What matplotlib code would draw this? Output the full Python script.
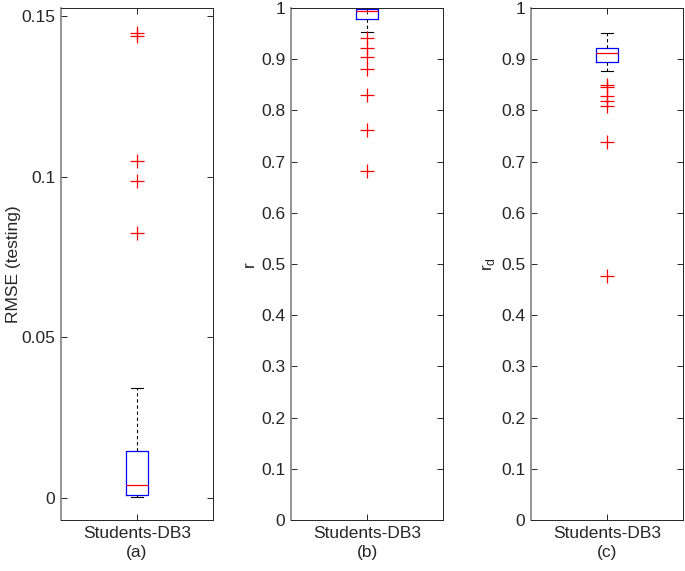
import matplotlib
matplotlib.use('Agg')
import matplotlib.pyplot as plt

plt.rcParams['font.family'] = ['Liberation Sans', 'DejaVu Sans']

# Box statistics
category = 'Students-DB3'
panel_tags = ['(a)', '(b)', '(c)']
y_labels = ['RMSE (testing)', 'r', r'r$_\mathregular{d}$']

rmse_stats = dict(med=0.0041, q1=0.0009, q3=0.0146, whislo=0.0004, whishi=0.0343)
rmse_fliers = [0.1447, 0.1438, 0.1047, 0.0985, 0.0825]

r_stats = dict(med=0.995, q1=0.979, q3=0.9975, whislo=0.953, whishi=1.0)
r_fliers = [0.941, 0.921, 0.904, 0.880, 0.830, 0.762, 0.682]

rd_stats = dict(med=0.912, q1=0.894, q3=0.921, whislo=0.876, whishi=0.951)
rd_fliers = [0.850, 0.845, 0.828, 0.818, 0.808, 0.738, 0.476]

rmse_ticks = [0, 0.05, 0.1, 0.15]
rmse_ticklabels = ['0', '0.05', '0.1', '0.15']
unit_ticks = [i / 10 for i in range(11)]
unit_ticklabels = ['0'] + ['0.%d' % i for i in range(1, 10)] + ['1']

fig = plt.figure(figsize=(6.85, 5.71), dpi=100)
lefts = [61 / 685, 291 / 685, 531 / 685]
w = 152 / 685
b = 1 - 520 / 571
h = 512 / 571

panels = [
    (rmse_stats, rmse_fliers, (-0.0068, 0.1524), rmse_ticks, rmse_ticklabels),
    (r_stats, r_fliers, (0, 1), unit_ticks, unit_ticklabels),
    (rd_stats, rd_fliers, (0, 1), unit_ticks, unit_ticklabels),
]
label_pads = [0.5, 3, 3]

for i, (st, fl, ylim, ticks, tlabels) in enumerate(panels):
    ax = fig.add_axes([lefts[i], b, w, h])
    stats = dict(st)
    stats['fliers'] = fl
    stats['label'] = category
    ax.bxp([stats], positions=[1], widths=0.15, showfliers=True,
           boxprops=dict(color='blue', linewidth=0.9),
           medianprops=dict(color='red', linewidth=0.9),
           whiskerprops=dict(color='black', linestyle=(0, (3, 2.5)), linewidth=0.8),
           capprops=dict(color='black', linewidth=0.8),
           capwidths=0.075,
           flierprops=dict(marker='+', markeredgecolor='red', markersize=10,
                           markeredgewidth=0.9, linestyle='none'))
    ax.set_xlim(0.5, 1.5)
    ax.set_ylim(*ylim)
    ax.set_yticks(ticks)
    ax.set_yticklabels(tlabels)
    ax.set_xticks([1])
    ax.set_xticklabels([category], fontsize=12)
    ax.set_ylabel(y_labels[i], fontsize=12.5, color='#262626', labelpad=label_pads[i])
    ax.set_xlabel(panel_tags[i], fontsize=12.5, color='#262626', labelpad=3)
    ax.tick_params(direction='in', length=4, width=0.7, colors='#262626',
                   labelsize=12.5, top=True, right=True, pad=4)
    for s in ax.spines.values():
        s.set_color('#262626')
        s.set_linewidth(0.7)
    ax.spines['left'].set_color('#808080')
    ax.spines['left'].set_linewidth(1.2)

fig.savefig('out.png', dpi=100)
